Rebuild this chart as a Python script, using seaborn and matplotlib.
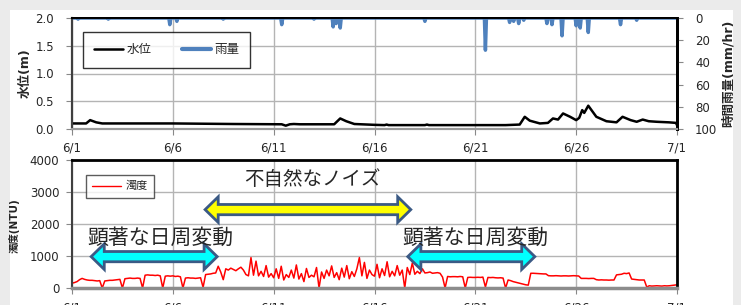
import matplotlib
matplotlib.use('Agg')
import matplotlib.pyplot as plt
from matplotlib.lines import Line2D
from matplotlib.patches import Polygon, Rectangle
import numpy as np
import pandas as pd
import seaborn as sns

# x axis: days since 6/1 00:00
DAY_TICKS = [0, 5, 10, 15, 20, 25, 30]
DAY_LABELS = ['6/1', '6/6', '6/11', '6/16', '6/21', '6/26', '7/1']

# water level (m)
LEVEL_DAYS = [0, 0.7, 0.9, 1.2, 1.5, 5.0, 8.0, 10.4, 10.6, 10.8, 11.0, 11.3, 13.0, 13.3, 13.6,
              14.0, 15.0, 15.5, 15.6, 15.7, 17.5, 17.6, 17.7, 21.5, 22.2, 22.45, 22.7, 23.2, 23.6,
              23.85, 24.1, 24.35, 24.7, 25.0, 25.15, 25.3, 25.4, 25.6, 26.0, 26.5, 27.0, 27.3,
              27.7, 28.0, 28.3, 28.6, 29.0, 29.6, 29.95, 30.0]
LEVEL_M = [0.10, 0.10, 0.16, 0.12, 0.10, 0.10, 0.09, 0.085, 0.06, 0.085, 0.09, 0.085, 0.085, 0.19, 0.14,
           0.09, 0.075, 0.07, 0.08, 0.07, 0.07, 0.08, 0.07, 0.07, 0.08, 0.22, 0.15, 0.10, 0.11,
           0.19, 0.17, 0.28, 0.22, 0.16, 0.20, 0.34, 0.29, 0.42, 0.22, 0.14, 0.12, 0.22,
           0.16, 0.13, 0.17, 0.14, 0.13, 0.12, 0.11, 0.07]

# hourly rainfall events (mm/hr)
RAIN_DAYS = [0.3, 1.8, 4.85, 5.2, 7.5, 10.4, 12.0, 12.95, 13.1, 13.3, 17.5, 20.5, 21.7, 21.9,
             22.15, 22.4, 23.55, 23.8, 24.3, 25.0, 25.2, 25.6, 27.2, 28.0]
RAIN_MM = [1, 1, 6, 3, 1, 6, 1, 8, 5, 9, 3, 29, 4, 3, 5, 2, 5, 6, 16, 7, 9, 13, 6, 2]

# turbidity (NTU), every 3 hours from 6/1 00:00
TURBIDITY_NTU = [
    150, 170, 200, 260, 300, 270, 250, 240,
    240, 230, 220, 230, 0, 220, 230, 240,
    240, 250, 260, 270, 0, 290, 300, 310,
    300, 300, 310, 300, 0, 400, 410, 400,
    400, 390, 400, 380, 0, 370, 380, 370,
    380, 360, 370, 350, 0, 310, 320, 310,
    310, 300, 310, 320, 20, 420, 430, 440,
    460, 470, 680, 500, 260, 600, 560, 620,
    580, 540, 600, 650, 560, 420, 380, 950,
    400, 840, 380, 520, 360, 700, 340, 450,
    320, 600, 300, 680, 250, 420, 330, 560,
    310, 720, 280, 450, 200, 610, 330, 400,
    350, 640, 0, 500, 300, 560, 380, 690,
    330, 480, 260, 620, 340, 700, 290, 510,
    360, 600, 950, 380, 800, 300, 560, 420,
    370, 740, 320, 600, 390, 820, 350, 520,
    380, 700, 400, 560, 0, 640, 420, 780,
    430, 520, 450, 600, 470, 480, 500, 460,
    470, 480, 460, 340, 0, 360, 350, 355,
    355, 350, 360, 350, 0, 330, 335, 330,
    330, 335, 330, 340, 30, 330, 325, 330,
    320, 315, 320, 310, 0, 250, 230, 200,
    180, 160, 140, 120, 100, 90, 460, 460,
    455, 450, 445, 440, 440, 385, 380, 380,
    385, 380, 375, 380, 380, 375, 380, 385,
    380, 375, 300, 300, 300, 295, 300, 300,
    260, 250, 255, 250, 250, 245, 250, 250,
    410, 420, 430, 460, 450, 470, 280, 270,
    260, 250, 250, 250, 30, 70, 60, 65,
    70, 65, 60, 70, 65, 70, 80, 90,
    100,
]

BLUE = '#4f81bd'
GRID = '#b4b4b4'

sns.set_style('ticks')
plt.rcParams['font.family'] = ['DejaVu Sans', 'Noto Sans CJK JP']

level_df = pd.DataFrame({'day': LEVEL_DAYS, 'level': LEVEL_M})

rain_t, rain_v = [0.0], [0.0]
for d, mm in zip(RAIN_DAYS, RAIN_MM):
    rain_t += [d - 0.05, d, d + 0.05]
    rain_v += [0, mm, 0]
rain_t.append(30.0)
rain_v.append(0)
rain_df = pd.DataFrame({'day': rain_t, 'mm': rain_v})

turb_df = pd.DataFrame({'day': np.arange(len(TURBIDITY_NTU)) / 8, 'ntu': TURBIDITY_NTU})

fig = plt.figure(figsize=(7.41, 3.05), dpi=100, facecolor='#ebebeb')
fig.patches.append(Rectangle((10 / 741, 0), 723 / 741, 295 / 305, transform=fig.transFigure,
                             facecolor='white', edgecolor='none', zorder=-1))

# ---------- top: water level + rainfall ----------
ax = fig.add_axes([72 / 741, 1 - 129 / 305, 605 / 741, 111 / 305])
ax2 = ax.twinx()

sns.lineplot(data=level_df, x='day', y='level', ax=ax, color='black', linewidth=1.8,
             estimator=None, sort=False, legend=False)
ax2.fill_between(rain_df['day'], 0, rain_df['mm'], color=BLUE, linewidth=0)
sns.lineplot(data=rain_df, x='day', y='mm', ax=ax2, color=BLUE, linewidth=2.5,
             estimator=None, sort=False, legend=False)

ax.set_xlim(0, 30)
ax.set_ylim(0, 2.0)
ax.set_yticks([0, 0.5, 1.0, 1.5, 2.0])
ax.set_yticklabels(['0.0', '0.5', '1.0', '1.5', '2.0'])
ax2.set_ylim(100, 0)
ax2.set_yticks([0, 20, 40, 60, 80, 100])
ax.set_xticks(DAY_TICKS)
ax.set_xticklabels(DAY_LABELS)
ax.grid(True, color=GRID, linewidth=1)
ax.set_axisbelow(True)
ax.set_xlabel('')
ax.set_ylabel('水位(m)', fontsize=9, fontweight='bold')
ax.yaxis.set_label_coords(-0.066, 0.5)
ax2.set_ylabel('時間雨量(mm/hr)', fontsize=9, fontweight='bold')
ax2.yaxis.set_label_coords(1.074, 0.5)

ax.tick_params(axis='y', length=4, pad=9, labelsize=8.5, color='#888888')
ax.tick_params(axis='x', length=4, pad=5, labelsize=8.5, color='#888888')
ax2.tick_params(axis='y', length=4, pad=9, labelsize=8.5, color='#888888')

for a in (ax, ax2):
    a.spines['top'].set_color('black')
    a.spines['top'].set_linewidth(1.4)
    a.spines['right'].set_color('black')
    a.spines['right'].set_linewidth(2)
    a.spines['left'].set_color('#404040')
    a.spines['left'].set_linewidth(1.5)
    a.spines['bottom'].set_color('#9a9a9a')
    a.spines['bottom'].set_linewidth(1.5)

top_handles = [Line2D([], [], color='black', linewidth=1.8, label='水位'),
               Line2D([], [], color=BLUE, linewidth=3, label='雨量')]
leg = ax2.legend(handles=top_handles, loc='upper left', ncol=2, fontsize=9,
                 bbox_to_anchor=(83 / 741, 1 - 32 / 305), bbox_transform=fig.transFigure,
                 borderaxespad=0, frameon=True, fancybox=False, borderpad=0.9,
                 handlelength=2.3, handletextpad=0.3, columnspacing=2.4)
leg.get_frame().set_edgecolor('black')
leg.get_frame().set_linewidth(1)

# ---------- bottom: turbidity ----------
ax3 = fig.add_axes([72 / 741, 1 - 288 / 305, 605 / 741, 128 / 305])
sns.lineplot(data=turb_df, x='day', y='ntu', ax=ax3, color='red', linewidth=1.1,
             estimator=None, sort=False, legend=False)
ax3.set_xlim(0, 30)
ax3.set_ylim(0, 4000)
ax3.set_yticks([0, 1000, 2000, 3000, 4000])
ax3.set_xticks(DAY_TICKS)
ax3.set_xticklabels(DAY_LABELS)
ax3.grid(True, color=GRID, linewidth=1)
ax3.set_axisbelow(True)
ax3.set_xlabel('')
ax3.set_ylabel('濁度(NTU)', fontsize=7.5, fontweight='bold')
ax3.yaxis.set_label_coords(-0.086, 0.49)
ax3.tick_params(axis='y', length=4, pad=5, labelsize=8.5, color='#888888')
ax3.tick_params(axis='x', length=4, pad=6, labelsize=8.5, color='#888888')
ax3.spines['top'].set_color('black')
ax3.spines['top'].set_linewidth(2)
ax3.spines['right'].set_color('black')
ax3.spines['right'].set_linewidth(2)
ax3.spines['left'].set_color('#404040')
ax3.spines['left'].set_linewidth(1.5)
ax3.spines['bottom'].set_color('#8c8c8c')
ax3.spines['bottom'].set_linewidth(2.5)

leg3 = ax3.legend(handles=[Line2D([], [], color='red', linewidth=1, label='濁度')],
                  loc='upper left', fontsize=8, bbox_to_anchor=(86 / 741, 1 - 175 / 305),
                  bbox_transform=fig.transFigure, borderaxespad=0, frameon=True,
                  fancybox=False, borderpad=0.55, handlelength=2.6, handletextpad=0.4)
leg3.get_frame().set_edgecolor('#333333')
leg3.get_frame().set_linewidth(1)


def double_arrow(axis, x0, x1, y, face):
    body, head, hlen = 160, 400, 0.65
    pts = [(x0, y), (x0 + hlen, y + head), (x0 + hlen, y + body), (x1 - hlen, y + body),
           (x1 - hlen, y + head), (x1, y), (x1 - hlen, y - head), (x1 - hlen, y - body),
           (x0 + hlen, y - body), (x0 + hlen, y - head)]
    axis.add_patch(Polygon(pts, closed=True, facecolor=face, edgecolor='#3b5a85',
                           linewidth=2, joinstyle='miter', zorder=5))


double_arrow(ax3, 6.6, 16.8, 2450, '#ffff00')
double_arrow(ax3, 0.95, 7.2, 980, '#00ffff')
double_arrow(ax3, 16.65, 22.95, 980, '#00ffff')

ax3.text(11.9, 3380, '不自然なノイズ', fontsize=14, ha='center', va='center', zorder=6)
ax3.text(4.4, 1560, '顕著な日周変動', fontsize=15, ha='center', va='center', zorder=6)
ax3.text(20.0, 1560, '顕著な日周変動', fontsize=15, ha='center', va='center', zorder=6)

fig.savefig('out.png', dpi=100, facecolor=fig.get_facecolor())
